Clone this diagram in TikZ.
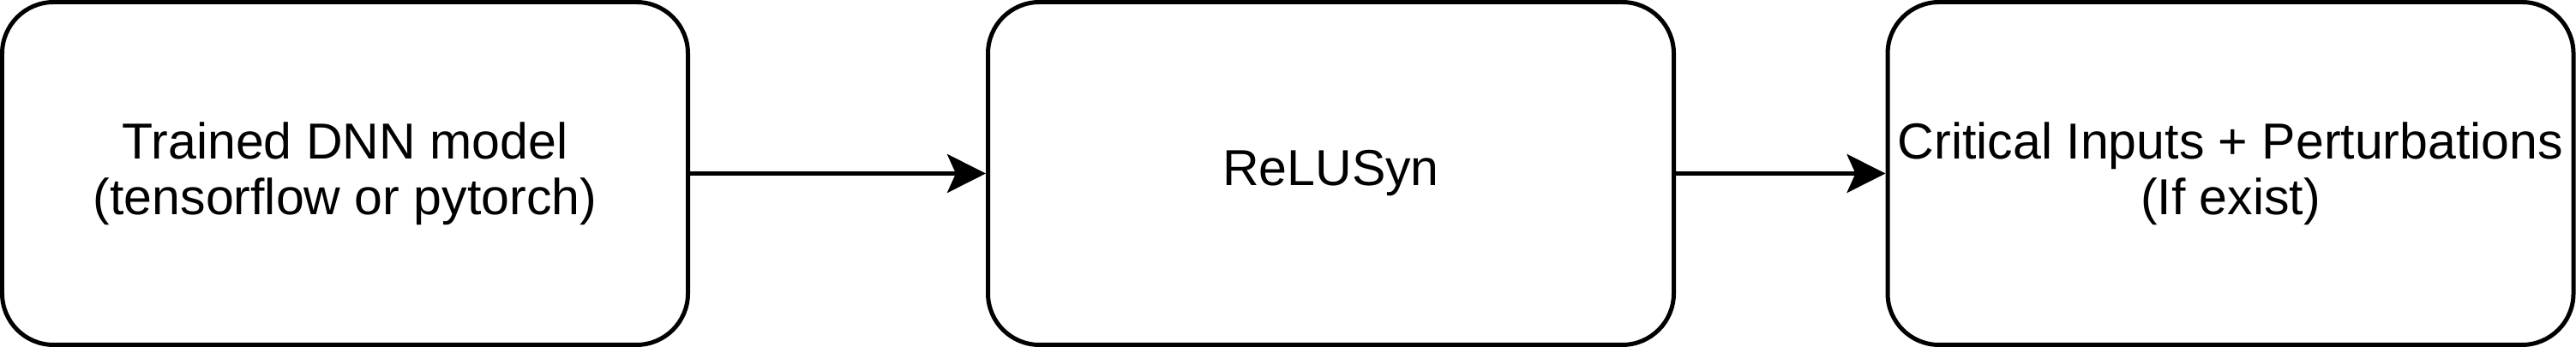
\documentclass[tikz,border=0pt]{standalone}
\usepackage{fontspec}
\setmainfont{Liberation Sans}
\usepackage{tikz}
\usetikzlibrary{arrows.meta,positioning}

\begin{document}
\begin{tikzpicture}[
    stagebox/.style={draw,line width=0.05cm,rounded corners=0.6cm,minimum width=8cm,minimum height=4cm,inner sep=0pt,align=center,font=\fontsize{16.8}{18.6}\selectfont},
    flow/.style={line width=0.05cm,-{Stealth[length=0.45cm,width=0.45cm,inset=0.1cm]}}
  ]
    \useasboundingbox (0,0) rectangle (30.05,4.05);
    \node[stagebox] (model) at (4.025,2.025) {Trained DNN model\\(tensorflow or pytorch)};
    \node[stagebox] (relusyn) at (15.525,2.025) {ReLUSyn};
    \node[stagebox] (critical) at (26.02,2.025) {Critical Inputs + Perturbations\\(If exist)};
    \draw[flow] (model) -- (relusyn);
    \draw[flow] (relusyn) -- (critical);
  \end{tikzpicture}
\end{document}
